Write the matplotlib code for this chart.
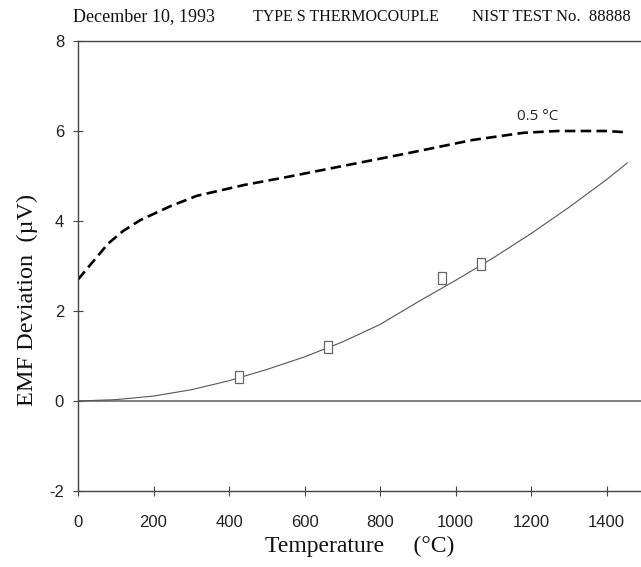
import matplotlib
matplotlib.use("Agg")
import matplotlib.pyplot as plt

plt.rcParams['axes.unicode_minus'] = False

# uncertainty band (dashed) and fitted deviation curve
band_temp = [0, 50, 80, 120, 165, 245, 315, 440, 555, 700, 870, 1045, 1180, 1270, 1400, 1455]
band_emf = [2.7, 3.2, 3.5, 3.78, 4.02, 4.33, 4.56, 4.8, 4.98, 5.22, 5.5, 5.8, 5.96, 6.0, 6.0, 5.97]

fit_temp = [0, 100, 200, 300, 400, 500, 600, 700, 800, 900, 1000, 1100, 1200, 1300, 1400, 1455]
fit_emf = [0, 0.03, 0.11, 0.25, 0.45, 0.7, 0.98, 1.31, 1.7, 2.2, 2.68, 3.18, 3.72, 4.3, 4.92, 5.29]

# measured points
meas_temp = [426, 662, 964, 1067]
meas_emf = [0.53, 1.2, 2.73, 3.04]

x_ticks = [0, 200, 400, 600, 800, 1000, 1200, 1400]
y_ticks = [-2, 0, 2, 4, 6, 8]

W, H = 641, 567
fig = plt.figure(figsize=(W / 100, H / 100), dpi=100)
ax = fig.add_axes([78 / W, (H - 491) / H, 1600 * 0.3775 / W, 450 / H])

ax.axhline(0, color="#6a6a6a", lw=1.2)
ax.plot(band_temp, band_emf, color="black", lw=1.9, dashes=(4, 2))
ax.plot(fit_temp, fit_emf, color="#555555", lw=0.8)
rect = [(-0.33, -0.5), (0.33, -0.5), (0.33, 0.5), (-0.33, 0.5), (-0.33, -0.5)]
ax.plot(meas_temp, meas_emf, ls="none", marker=rect, markersize=9,
        markerfacecolor="white", markeredgecolor="#666666", markeredgewidth=0.9)

ax.text(1218, 6.33, "0.5 °C", fontsize=11, family=["Open Sans", "DejaVu Sans"],
        color="#222222", ha="center", va="center")

ax.set_xlim(0, 1600)
ax.set_ylim(-2, 8)
ax.set_xticks(x_ticks)
ax.set_yticks(y_ticks)

narrow = ["Liberation Sans Narrow", "Liberation Sans", "DejaVu Sans"]
ax.tick_params(axis="both", direction="inout", length=7, width=0.8, colors="#444444",
               labelcolor="#222222")
ax.tick_params(axis="x", pad=14)
ax.tick_params(axis="y", pad=6.5)
for lab in ax.get_xticklabels() + ax.get_yticklabels():
    lab.set_family(narrow)
    lab.set_fontsize(12)

ax.spines["right"].set_visible(False)
for s in ["left", "top", "bottom"]:
    ax.spines[s].set_color("#444444")
    ax.spines[s].set_linewidth(1.0)

serif = ["Liberation Serif", "DejaVu Serif"]
fig.text(73 / W, 1 - 17 / H, "December 10, 1993", family=serif, fontsize=13,
         ha="left", va="center", color="#111111")
fig.text(253 / W, 1 - 17 / H, "TYPE S THERMOCOUPLE", family=serif, fontsize=11.5,
         ha="left", va="center", color="#111111")
fig.text(472 / W, 1 - 17 / H, "NIST TEST No.  88888", family=serif, fontsize=12,
         ha="left", va="center", color="#111111")

fig.text(360 / W, 1 - 546 / H, "Temperature     (°C)", family=serif, fontsize=17,
         ha="center", va="center", color="#111111")
fig.text(27 / W, 1 - 300 / H, "EMF Deviation  (µV)", family=serif, fontsize=17.5,
         rotation=90, ha="center", va="center", color="#111111")

fig.savefig("out.png", dpi=100)
